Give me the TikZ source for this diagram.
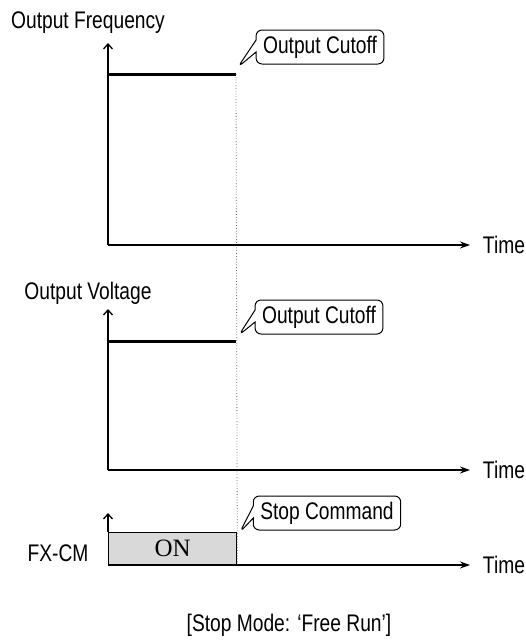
\documentclass[tikz,border=0pt]{standalone}
\usepackage{fontspec}
\setmainfont{Liberation Sans}[FakeStretch=0.8]
\newfontfamily\onfont{Liberation Serif}
\usepackage{xcolor}
\usepackage{tikz}
\usetikzlibrary{arrows.meta,positioning,shapes.callouts}
\definecolor{onfill}{RGB}{217,217,217}
\newcommand{\lab}{\fontsize{24}{28}\selectfont}
\tikzset{
  axis/.style={line width=1.3pt,-{Stealth[length=10pt,width=7pt]}},
  yaxis/.style={line width=1.3pt,-{Straight Barb[length=5pt,width=9pt]}},
  level/.style={line width=3pt},
  note/.style={rectangle callout,draw,line width=1pt,rounded corners=6pt,
    inner xsep=7pt,inner ysep=1pt,minimum height=34pt,callout pointer width=12pt}
}

\begin{document}
\begin{tikzpicture}[x=1pt,y=-1pt,font=\lab]
  \useasboundingbox (0,0) rectangle (526,640);
  \coordinate (o1) at (108,245);
  \coordinate (o2) at (108,470);
  \coordinate (o3) at (108,565);
  \coordinate (y1) at (108,43);
  \coordinate (y2) at (108,309);
  \coordinate (y3) at (108,513);
  \coordinate (x1) at (470,245);
  \coordinate (x2) at (470,470);
  \coordinate (x3) at (470,565);
  \coordinate (f0) at (108,74);
  \coordinate (f1) at (236,74);
  \coordinate (v0) at (108,341);
  \coordinate (v1) at (236,341);
  \coordinate (p1) at (238,67);
  \coordinate (p2) at (239,335);
  \coordinate (p3) at (240,532);

  \node[draw,line width=1.3pt,fill=onfill,minimum width=128pt,minimum height=32pt,
    anchor=south west,inner sep=0pt,font=\fontsize{25}{28}\selectfont\onfont] (cm) at (o3) {ON};
  \draw[dotted,line width=0.8pt,black!60] (f1) -- (cm.south east);

  \draw[yaxis] (o1) -- (y1);
  \draw[axis] (o1) -- (x1) node[right=9pt] (t1) {Time};
  \draw[level] (f0) -- (f1);
  \node (fq) at (88,23) {Output Frequency};
  \node[note,callout absolute pointer={(p1)}] (n1) at (320,47) {Output Cutoff};

  \draw[yaxis] (o2) -- (y2);
  \draw[axis] (o2) -- (x2) node[right=9pt] (t2) {Time};
  \draw[level] (v0) -- (v1);
  \node (vo) at (88,293) {Output Voltage};
  \node[note,callout absolute pointer={(p2)}] (n2) at (319,317) {Output Cutoff};

  \draw[yaxis] (cm.north west) -- (y3);
  \draw[axis] (o3) -- (x3) node[right=9pt] (t3) {Time};
  \node[anchor=east] (fx) at (92,553) {FX-CM};
  \node[note,callout absolute pointer={(p3)}] (n3) at (327,513) {Stop Command};

  \node (cap) at (289,625) {[Stop Mode: ‘Free Run’]};
\end{tikzpicture}
\end{document}
